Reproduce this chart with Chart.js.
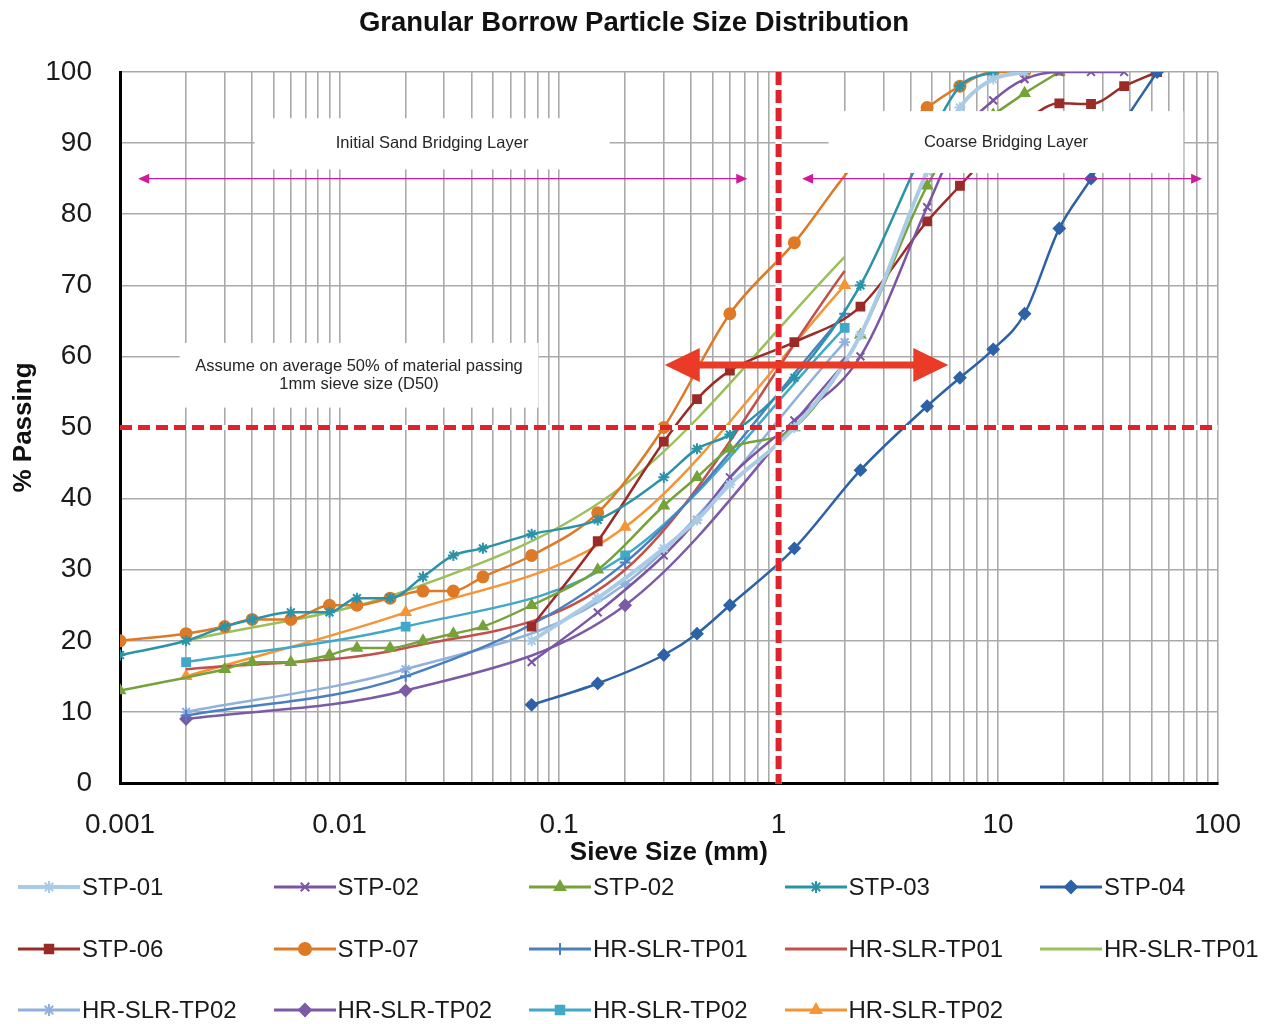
<!DOCTYPE html>
<html>
<head>
<meta charset="utf-8">
<script src="https://cdn.jsdelivr.net/npm/chart.js@4.4.1/dist/chart.umd.min.js"></script>
<style>
  body { margin: 0; background: #fff; }
  #wrap { position: relative; width: 1266px; height: 1024px; }
  #title { position: absolute; left: 0; top: 6px; width: 1268px; text-align: center;
    font-family: 'Liberation Sans', Arial, sans-serif; font-weight: bold; font-size: 27.5px; color: #111; }
  #legend { position: absolute; left: 0; top: 860px; width: 1266px; height: 164px;
    font-family: 'Liberation Sans', Arial, sans-serif; font-size: 24px; color: #1a1a1a; }
  .item { position: absolute; display: flex; align-items: center; height: 30px; white-space: nowrap; }
  .item canvas { margin-right: 2px; }
</style>
</head>
<body>
<div id="wrap">
  <canvas id="chart" width="1266" height="870"></canvas>
  <div id="title">Granular Borrow Particle Size Distribution</div>
  <div id="legend"></div>
</div>
<script>
// sieve sizes (mm) used by the STP tests
const testSieves = [0.001, 0.002, 0.003, 0.004, 0.006, 0.009, 0.012, 0.017, 0.024, 0.033, 0.045,
  0.075, 0.15, 0.3, 0.425, 0.6, 1.18, 2.36, 4.75, 6.7, 9.5, 13.2, 19, 26.5, 37.5, 53];
// sieve sizes (mm) used by the HR-SLR pits
const hrSieves = [0.002, 0.02, 0.2, 2];
const _ = null;

// % passing, aligned with testSieves
const stp01     = [_,_,_,_,_,_,_,_,_,_,_, 20,26,33,37,42,50,63,86,95,99,100, _,_,_,_];
const stp02x    = [_,_,_,_,_,_,_,_,_,_,_, 17,24,32,37,43,51,60,81,91,96,99,100,100,100, _];
const stp02tri  = [13,_,16,17,17,18,19,19,20,21,22,25,30,39,43,47,50,63,84,91,94,97,100, _,_,_];
const stp03     = [18,20,22,23,24,24,26,26,29,32,33,35,37,43,47,49,57,70,90,98,100, _,_,_,_,_];
const stp04     = [_,_,_,_,_,_,_,_,_,_,_, 11,14,18,21,25,33,44,53,57,61,66,78,85,93,100];
const stp06     = [_,_,_,_,_,_,_,_,_,_,_, 22,34,48,54,58,62,67,79,84,89,93,95.6,95.5,98,100];
const stp07     = [20,21,22,23,23,25,25,26,27,27,29,32,38,50,_,66,76,88,95,98,100,100, _,_,_,_];

// % passing, aligned with hrSieves
const tp01Blue   = [9.5, 15, 31, 66];
const tp01Red    = [16, 19, 30, 72];
const tp01Green  = [20, 27, 42, 74];
const tp02Light  = [10, 16, 28, 62];
const tp02Purple = [9, 13, 25, 59];
const tp02Cyan   = [17, 22, 32, 64];
const tp02Orange = [15, 24, 36, 70];

// x axis tick labels (decades)
const xMajorTicks = [0.001, 0.01, 0.1, 1, 10, 100];
const yTicks = [0, 10, 20, 30, 40, 50, 60, 70, 80, 90, 100];

// D50 guide
const d50Size = 1;
const d50Pass = 50;

const arial = "'Liberation Sans', Arial, sans-serif";

function toPoints(sizes, vals) {
  return sizes.map((s, i) => vals[i] == null ? null : { x: s, y: vals[i] }).filter(p => p);
}

// minor grid: 1..9 in each decade
const xGridValues = [];
xMajorTicks.forEach((d, i) => {
  if (i === xMajorTicks.length - 1) { xGridValues.push(d); return; }
  for (let m = 1; m < 10; m++) xGridValues.push(+(d * m).toPrecision(6));
});

const series = [
  { label: 'STP-01', sizes: testSieves, vals: stp01, color: '#a9cbe6', style: 'star', width: 4 },
  { label: 'STP-02', sizes: testSieves, vals: stp02x, color: '#7b55a3', style: 'crossRot' },
  { label: 'STP-02', sizes: testSieves, vals: stp02tri, color: '#76a23a', style: 'triangle' },
  { label: 'STP-03', sizes: testSieves, vals: stp03, color: '#2b93a9', style: 'star' },
  { label: 'STP-04', sizes: testSieves, vals: stp04, color: '#2d62a6', style: 'rectRot' },
  { label: 'STP-06', sizes: testSieves, vals: stp06, color: '#9b2b27', style: 'rect' },
  { label: 'STP-07', sizes: testSieves, vals: stp07, color: '#de7a26', style: 'circle' },
  { label: 'HR-SLR-TP01', sizes: hrSieves, vals: tp01Blue, color: '#4a7fc1', style: 'cross' },
  { label: 'HR-SLR-TP01', sizes: hrSieves, vals: tp01Red, color: '#c4504b', style: false },
  { label: 'HR-SLR-TP01', sizes: hrSieves, vals: tp01Green, color: '#9bc05a', style: false },
  { label: 'HR-SLR-TP02', sizes: hrSieves, vals: tp02Light, color: '#90b1dc', style: 'star' },
  { label: 'HR-SLR-TP02', sizes: hrSieves, vals: tp02Purple, color: '#7b5aa6', style: 'rectRot' },
  { label: 'HR-SLR-TP02', sizes: hrSieves, vals: tp02Cyan, color: '#41a9c8', style: 'rect' },
  { label: 'HR-SLR-TP02', sizes: hrSieves, vals: tp02Orange, color: '#f59536', style: 'triangle' }
];

const datasets = series.map(s => ({
  label: s.label,
  data: toPoints(s.sizes, s.vals),
  borderColor: s.color,
  backgroundColor: s.color,
  borderWidth: s.width || 2.5,
  pointStyle: s.style || 'circle',
  pointRadius: s.style ? 5.5 : 0,
  pointBorderWidth: 2,
  pointBackgroundColor: s.color,
  pointBorderColor: s.color,
  cubicInterpolationMode: 'monotone',
  fill: false
}));

// annotation layout, in data units
const notes = {
  sandBox: { x0: 0.0041, x1: 0.17, y0: 86.3, y1: 93.5, lines: ['Initial Sand Bridging Layer'] },
  coarseBox: { x0: 1.69, x1: 69.8, y0: 85.8, y1: 94.5, lines: ['Coarse Bridging Layer'] },
  d50Box: { x0: 0.00187, x1: 0.0805, y0: 52.8, y1: 61.9,
    lines: ['Assume on average 50% of material passing', '1mm sieve size (D50)'] },
  sandArrow: { x0: 0.00121, x1: 0.72, y: 85 },
  coarseArrow: { x0: 1.28, x1: 85, y: 85 },
  redArrow: { x0: 0.303, x1: 5.93, y: 58.8 }
};

function dashedLine(ctx, x0, y0, x1, y1, w, dash) {
  ctx.save();
  ctx.lineWidth = w;
  ctx.strokeStyle = '#ffffff';
  ctx.setLineDash([]);
  ctx.beginPath(); ctx.moveTo(x0, y0); ctx.lineTo(x1, y1); ctx.stroke();
  ctx.strokeStyle = '#e0232b';
  ctx.setLineDash(dash);
  ctx.beginPath(); ctx.moveTo(x0, y0); ctx.lineTo(x1, y1); ctx.stroke();
  ctx.restore();
}

function textBox(ctx, xs, ys, b) {
  const l = xs.getPixelForValue(b.x0), r = xs.getPixelForValue(b.x1);
  const t = ys.getPixelForValue(b.y1), btm = ys.getPixelForValue(b.y0);
  ctx.fillStyle = '#ffffff';
  ctx.fillRect(l, t, r - l, btm - t);
  ctx.fillStyle = '#262626';
  ctx.font = '16.5px ' + arial;
  ctx.textAlign = 'center';
  ctx.textBaseline = 'middle';
  const cx = (l + r) / 2, cy = (t + btm) / 2, lh = 18;
  b.lines.forEach((s, i) => ctx.fillText(s, cx, cy + (i - (b.lines.length - 1) / 2) * lh));
}

function doubleArrow(ctx, xs, ys, a, color, lw, headLen, headHalf) {
  const x0 = xs.getPixelForValue(a.x0), x1 = xs.getPixelForValue(a.x1), yy = ys.getPixelForValue(a.y);
  ctx.strokeStyle = color;
  ctx.fillStyle = color;
  ctx.lineWidth = lw;
  ctx.setLineDash([]);
  ctx.beginPath(); ctx.moveTo(x0 + headLen - 1, yy); ctx.lineTo(x1 - headLen + 1, yy); ctx.stroke();
  ctx.beginPath(); ctx.moveTo(x0, yy); ctx.lineTo(x0 + headLen, yy - headHalf); ctx.lineTo(x0 + headLen, yy + headHalf); ctx.closePath(); ctx.fill();
  ctx.beginPath(); ctx.moveTo(x1, yy); ctx.lineTo(x1 - headLen, yy - headHalf); ctx.lineTo(x1 - headLen, yy + headHalf); ctx.closePath(); ctx.fill();
}

const annotations = {
  id: 'annotations',
  afterDatasetsDraw(chart) {
    const { ctx, chartArea: a, scales: { x, y } } = chart;
    ctx.save();
    const gx = x.getPixelForValue(d50Size), gy = y.getPixelForValue(d50Pass);
    dashedLine(ctx, a.left, gy, a.right, gy, 5, [12, 6]);
    dashedLine(ctx, gx, a.top, gx, a.bottom + 1, 6, [13, 5]);
    textBox(ctx, x, y, notes.sandBox);
    textBox(ctx, x, y, notes.coarseBox);
    textBox(ctx, x, y, notes.d50Box);
    doubleArrow(ctx, x, y, notes.sandArrow, '#cf1b9b', 1.3, 11, 5);
    doubleArrow(ctx, x, y, notes.coarseArrow, '#cf1b9b', 1.3, 11, 5);
    doubleArrow(ctx, x, y, notes.redArrow, '#ea3b26', 7, 35, 17);
    ctx.restore();
  }
};

const gridStyle = { color: '#aaaaaa', lineWidth: 1.6, drawTicks: false };

new Chart(document.getElementById('chart'), {
  type: 'line',
  data: { datasets },
  plugins: [annotations],
  options: {
    responsive: false,
    animation: false,
    events: [],
    layout: { padding: { left: 0, right: 41, top: 72, bottom: 0 } },
    plugins: {
      legend: { display: false },
      tooltip: { enabled: false },
      title: { display: false }
    },
    scales: {
      x: {
        type: 'logarithmic',
        min: xMajorTicks[0],
        max: xMajorTicks[xMajorTicks.length - 1],
        afterBuildTicks(s) { s.ticks = xGridValues.map(v => ({ value: v })); },
        afterFit(s) { s.height = 87; },
        ticks: {
          autoSkip: false, maxRotation: 0, minRotation: 0, padding: 25,
          color: '#1a1a1a', font: { family: arial, size: 28 },
          callback: v => xMajorTicks.includes(v) ? String(v) : ''
        },
        grid: gridStyle,
        border: { color: '#000', width: 3 },
        title: { display: true, text: 'Sieve Size (mm)', color: '#111',
          font: { family: arial, size: 26, weight: 'bold' }, padding: { top: 0, bottom: 2 } }
      },
      y: {
        min: yTicks[0],
        max: yTicks[yTicks.length - 1],
        afterFit(s) { s.width = 120; },
        afterBuildTicks(s) { s.ticks = yTicks.map(v => ({ value: v })); },
        ticks: { padding: 28, color: '#1a1a1a', font: { family: arial, size: 28 } },
        grid: gridStyle,
        border: { color: '#000', width: 3 },
        title: { display: true, text: '% Passing', color: '#111',
          font: { family: arial, size: 26, weight: 'bold' }, padding: { top: 8, bottom: 0 } }
      }
    }
  }
});

// legend: 5 columns, 3 rows
const legend = document.getElementById('legend');
series.forEach((s, i) => {
  const row = Math.floor(i / 5), col = i % 5;
  const item = document.createElement('div');
  item.className = 'item';
  item.style.left = (18 + col * 255.5) + 'px';
  item.style.top = (12 + row * 61.5) + 'px';
  const c = document.createElement('canvas');
  c.width = 62; c.height = 30;
  const g = c.getContext('2d');
  g.strokeStyle = s.color; g.fillStyle = s.color;
  g.lineWidth = s.width || 3;
  g.beginPath(); g.moveTo(0, 15); g.lineTo(62, 15); g.stroke();
  if (s.style) {
    g.lineWidth = 2;
    Chart.helpers.drawPoint(g, { pointStyle: s.style, radius: 6, rotation: 0, borderWidth: 2 }, 31, 15);
  }
  item.appendChild(c);
  const t = document.createElement('span');
  t.textContent = s.label;
  item.appendChild(t);
  legend.appendChild(item);
});
</script>
</body>
</html>
